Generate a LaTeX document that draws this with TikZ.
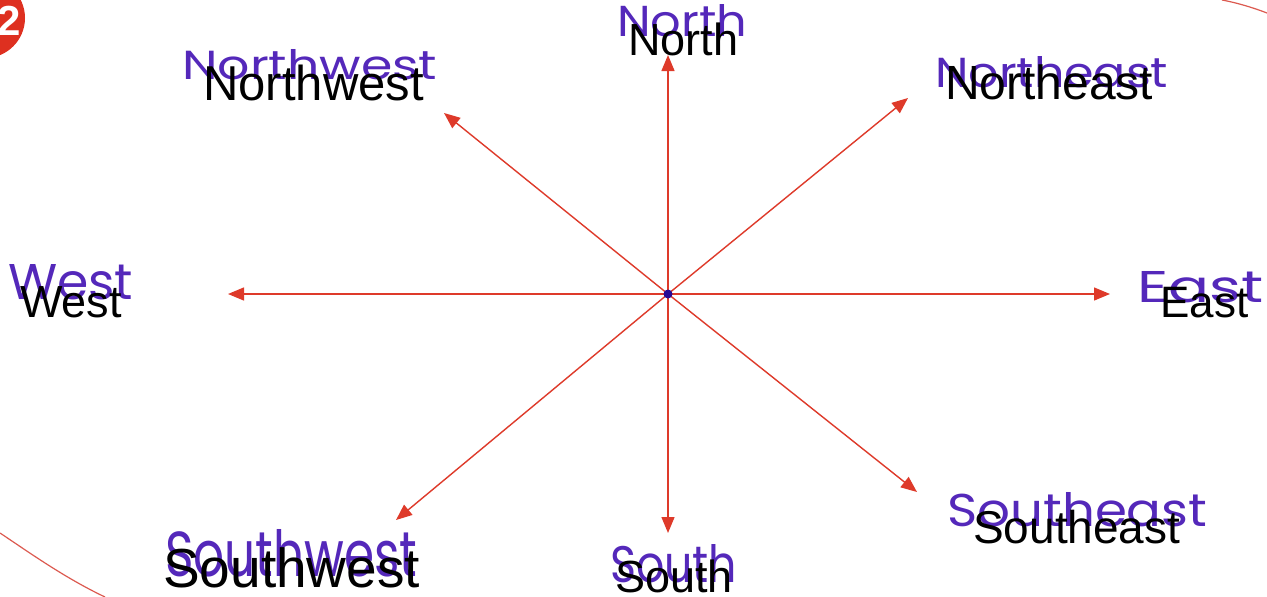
\documentclass[tikz,border=0pt]{standalone}
\usepackage{fontspec}
\usepackage{graphicx}
\setmainfont{Liberation Sans}
\newfontfamily\hwfont{Poppins}
\usetikzlibrary{arrows.meta}
\definecolor{arr}{RGB}{222,58,42}
\definecolor{ring}{RGB}{220,90,80}
\definecolor{badge}{RGB}{222,48,32}
\definecolor{pen}{RGB}{84,40,186}
\definecolor{dotc}{RGB}{40,10,150}
\tikzset{
  dirarrow/.style={draw=arr, line width=1.4pt, -{Triangle[length=16pt,width=13pt]}},
  ringline/.style={draw=ring, line width=1.2pt},
  lab/.style={inner sep=0pt, anchor=base west, text=black},
  hw/.style={inner sep=0pt, anchor=south west, text=pen, font=\hwfont},
}
\newcommand{\hwtext}[3]{\resizebox{#1pt}{#2pt}{#3}}
\begin{document}
\begin{tikzpicture}[x=1pt,y=-1pt]
\useasboundingbox (0,0) rectangle (1267,597);
\fill[white] (0,0) rectangle (1267,597);

% badge and large ring arcs
\fill[badge] (-15,18) circle (40pt);
\node[inner sep=0pt, anchor=base east, text=white, font=\bfseries\fontsize{42}{42}\selectfont] (badgetxt) at (21,35) {2};
\draw[ringline] (0,533) .. controls (30,553) and (65,578) .. (105,597);
\draw[ringline] (1222,0) .. controls (1238,3) and (1254,8) .. (1267,13);

% handwritten labels
\node[hw] (hN)  at (617,37)  {\hwtext{130}{32}{North}};
\node[hw] (hNW) at (182,80)  {\hwtext{255}{30}{Northwest}};
\node[hw] (hNE) at (935,88)  {\hwtext{233}{31}{Northeast}};
\node[hw] (hW)  at (8,300)   {\hwtext{125}{35}{West}};
\node[hw] (hE)  at (1137,303){\hwtext{126}{31}{East}};
\node[hw] (hSW) at (165,577) {\hwtext{252}{47}{Southwest}};
\node[hw] (hS)  at (610,583) {\hwtext{127}{38}{South}};
\node[hw] (hSE) at (947,527) {\hwtext{260}{34}{Southeast}};

% arrows
\coordinate (c) at (668,294);
\coordinate (tN)  at (668,55);
\coordinate (tNW) at (444,113);
\coordinate (tNE) at (908,98);
\coordinate (tW)  at (228,294);
\coordinate (tE)  at (1110,294);
\coordinate (tSW) at (396,520);
\coordinate (tS)  at (668,533);
\coordinate (tSE) at (917,492);
\foreach \t in {tN,tNW,tNE,tW,tE,tSW,tS,tSE}
  \draw[dirarrow] (c) -- (\t);
\node[circle, fill=dotc, inner sep=0pt, minimum size=9pt] (dot) at (c) {};

% typed labels
\node[lab, font=\fontsize{45}{45}\selectfont] (lN)  at (628,55)  {North};
\node[lab, font=\fontsize{49}{49}\selectfont] (lNW) at (203,100) {Northwest};
\node[lab, font=\fontsize{48}{48}\selectfont] (lNE) at (945,99)  {Northeast};
\node[lab, font=\fontsize{45}{45}\selectfont] (lW)  at (20,317)  {West};
\node[lab, font=\fontsize{44}{44}\selectfont] (lE)  at (1160,317){East};
\node[lab, font=\fontsize{55}{55}\selectfont] (lSW) at (163,587) {Southwest};
\node[lab, font=\fontsize{45}{45}\selectfont] (lS)  at (615,592) {South};
\node[lab, font=\fontsize{46}{46}\selectfont] (lSE) at (973,543) {Southeast};
\end{tikzpicture}
\end{document}
